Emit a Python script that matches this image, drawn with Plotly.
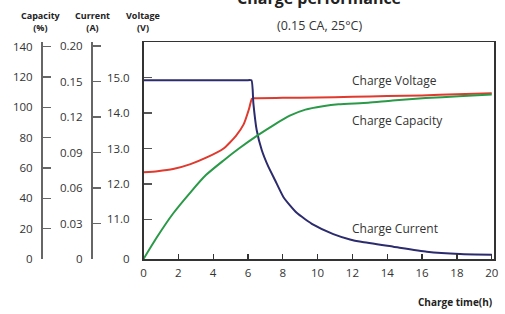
import plotly.graph_objects as go

# ---- data ----
volt_x = [0, 0.8, 1.7, 2.7, 3.6, 4.6, 5.3, 5.75, 6.05, 6.22, 6.32, 8, 10, 12, 14, 16, 18, 20]
volt_y = [12.33, 12.36, 12.42, 12.56, 12.74, 13.0, 13.35, 13.68, 14.1, 14.4, 14.42,
          14.43, 14.44, 14.46, 14.48, 14.5, 14.53, 14.56]

cap_x = [0, 0.75, 1.7, 2.7, 3.6, 4.6, 5.5, 6.55, 7.5, 8.4, 9.3, 10.3, 11.2, 12.9,
         14.3, 16.2, 18.1, 20]
cap_y = [0, 14, 30, 44, 55.5, 65, 73, 81.5, 88.5, 94.5, 98.5, 100.7, 102, 103.1,
         104.6, 106.1, 107.3, 108.4]

cur_x = [0, 2, 4, 5.9, 6.2, 6.31, 6.5, 6.79, 7.17, 7.55, 8.05, 8.8, 9.75, 10.9, 11.86,
         12.5, 14.35, 16.27, 18.18, 20]
cur_y = [0.151, 0.151, 0.151, 0.151, 0.151, 0.1316, 0.109, 0.0921, 0.078, 0.0668,
         0.052, 0.039, 0.029, 0.021, 0.0165, 0.0145, 0.0104, 0.0062, 0.0042, 0.0036]

x_ticks = [0, 2, 4, 6, 8, 10, 12, 14, 16, 18, 20]
cap_ticks = [0, 20, 40, 60, 80, 100, 120, 140]
cur_ticks = [0, 0.03, 0.06, 0.09, 0.12, 0.15, 0.18]
cur_ticktext = ["0", "0.03", "0.06", "0.09", "0.12", "0.15", "0.20"]
volt_ticks = [9.879, 11, 12, 13, 14, 15]
volt_ticktext = ["0", "11.0", "12.0", "13.0", "14.0", "15.0"]

W, H = 505, 314
FONT = "Open Sans"
TXT = "#333333"


def px2paper(px):
    return px / W


def py2paper(py):
    return (259 - py) / 217


fig = go.Figure()
fig.add_trace(go.Scatter(x=volt_x, y=volt_y, mode="lines", yaxis="y",
                         line=dict(color="#e0392d", width=2, shape="spline", smoothing=0.5)))
fig.add_trace(go.Scatter(x=cur_x, y=cur_y, mode="lines", yaxis="y2",
                         line=dict(color="#2c2b6e", width=2, shape="spline", smoothing=0.5)))
fig.add_trace(go.Scatter(x=cap_x, y=cap_y, mode="lines", yaxis="y3",
                         line=dict(color="#2a9a48", width=2, shape="spline", smoothing=0.6)))

tickfont = dict(family=FONT, size=11.5, color=TXT)

fig.update_layout(
    width=W, height=H,
    margin=dict(l=0, r=0, t=42, b=H - 259),
    paper_bgcolor="white", plot_bgcolor="white",
    showlegend=False,
    hovermode=False,
    font=dict(family=FONT, color=TXT),
    xaxis=dict(domain=[px2paper(143.5), px2paper(494)], range=[0, 20.13], tickvals=x_ticks,
               ticks="inside", ticklen=5, tickwidth=1.2, tickcolor="#333",
               showline=True, linecolor="#333", linewidth=1.5, mirror=True,
               showgrid=False, zeroline=False, tickfont=tickfont,
               ticklabelstandoff=3, automargin=False),
    yaxis=dict(range=[9.879, 16.008], tickvals=volt_ticks, ticktext=volt_ticktext,
               ticks="inside", ticklen=8, tickwidth=1.2, tickcolor="#555",
               showline=True, linecolor="#333", linewidth=1.5, mirror=True,
               showgrid=False, zeroline=False, tickfont=tickfont,
               ticklabelstandoff=10, automargin=False),
    yaxis2=dict(overlaying="y", anchor="free", position=px2paper(91), side="left",
                range=[0, 0.1834], tickvals=cur_ticks, ticktext=cur_ticktext,
                ticks="inside", ticklen=8, tickwidth=1.2, tickcolor="#666",
                showline=True, linecolor="#666", linewidth=1.5,
                showgrid=False, zeroline=False, tickfont=tickfont,
                ticklabelstandoff=6, automargin=False),
    yaxis3=dict(overlaying="y", anchor="free", position=px2paper(41), side="left",
                range=[0, 143.1], tickvals=cap_ticks,
                ticks="inside", ticklen=8, tickwidth=1.2, tickcolor="#666",
                showline=True, linecolor="#666", linewidth=1.5,
                showgrid=False, zeroline=False, tickfont=tickfont,
                ticklabelstandoff=6, automargin=False),
)

anns = [
    dict(text="<b>Charge performance</b>", x=px2paper(319), y=py2paper(11), yanchor="bottom",
         font=dict(size=16, color="#222")),
    dict(text="(0.15 CA, 25°C)", x=px2paper(319), y=py2paper(25), yanchor="middle",
         font=dict(size=12.5, color=TXT)),
    dict(text="<b>Capacity<br>(%)</b>", x=px2paper(41), y=py2paper(21), yanchor="middle",
         font=dict(size=9, color="#222")),
    dict(text="<b>Current<br>(A)</b>", x=px2paper(92.5), y=py2paper(21), yanchor="middle",
         font=dict(size=9, color="#222")),
    dict(text="<b>Voltage<br>(V)</b>", x=px2paper(142.5), y=py2paper(21), yanchor="middle",
         font=dict(size=9, color="#222")),
    dict(text="<b>Charge time(h)</b>", x=px2paper(494), xanchor="right", y=py2paper(302),
         yanchor="middle", font=dict(size=10, color="#222")),
]
for a in anns:
    a.setdefault("xanchor", "center")
    fig.add_annotation(xref="paper", yref="paper", showarrow=False, **a)

labels = [("Charge Voltage", 14.91), ("Charge Capacity", 13.78), ("Charge Current", 10.75)]
for txt, yv in labels:
    fig.add_annotation(x=11.86, y=yv, xref="x", yref="y", text=txt, showarrow=False,
                       xanchor="left", yanchor="middle",
                       font=dict(family=FONT, size=12, color=TXT))

fig.write_html(
    "out.html",
    config={"displayModeBar": False, "staticPlot": True},
    post_script="document.body.style.margin='0';document.body.style.overflow='hidden';",
)
